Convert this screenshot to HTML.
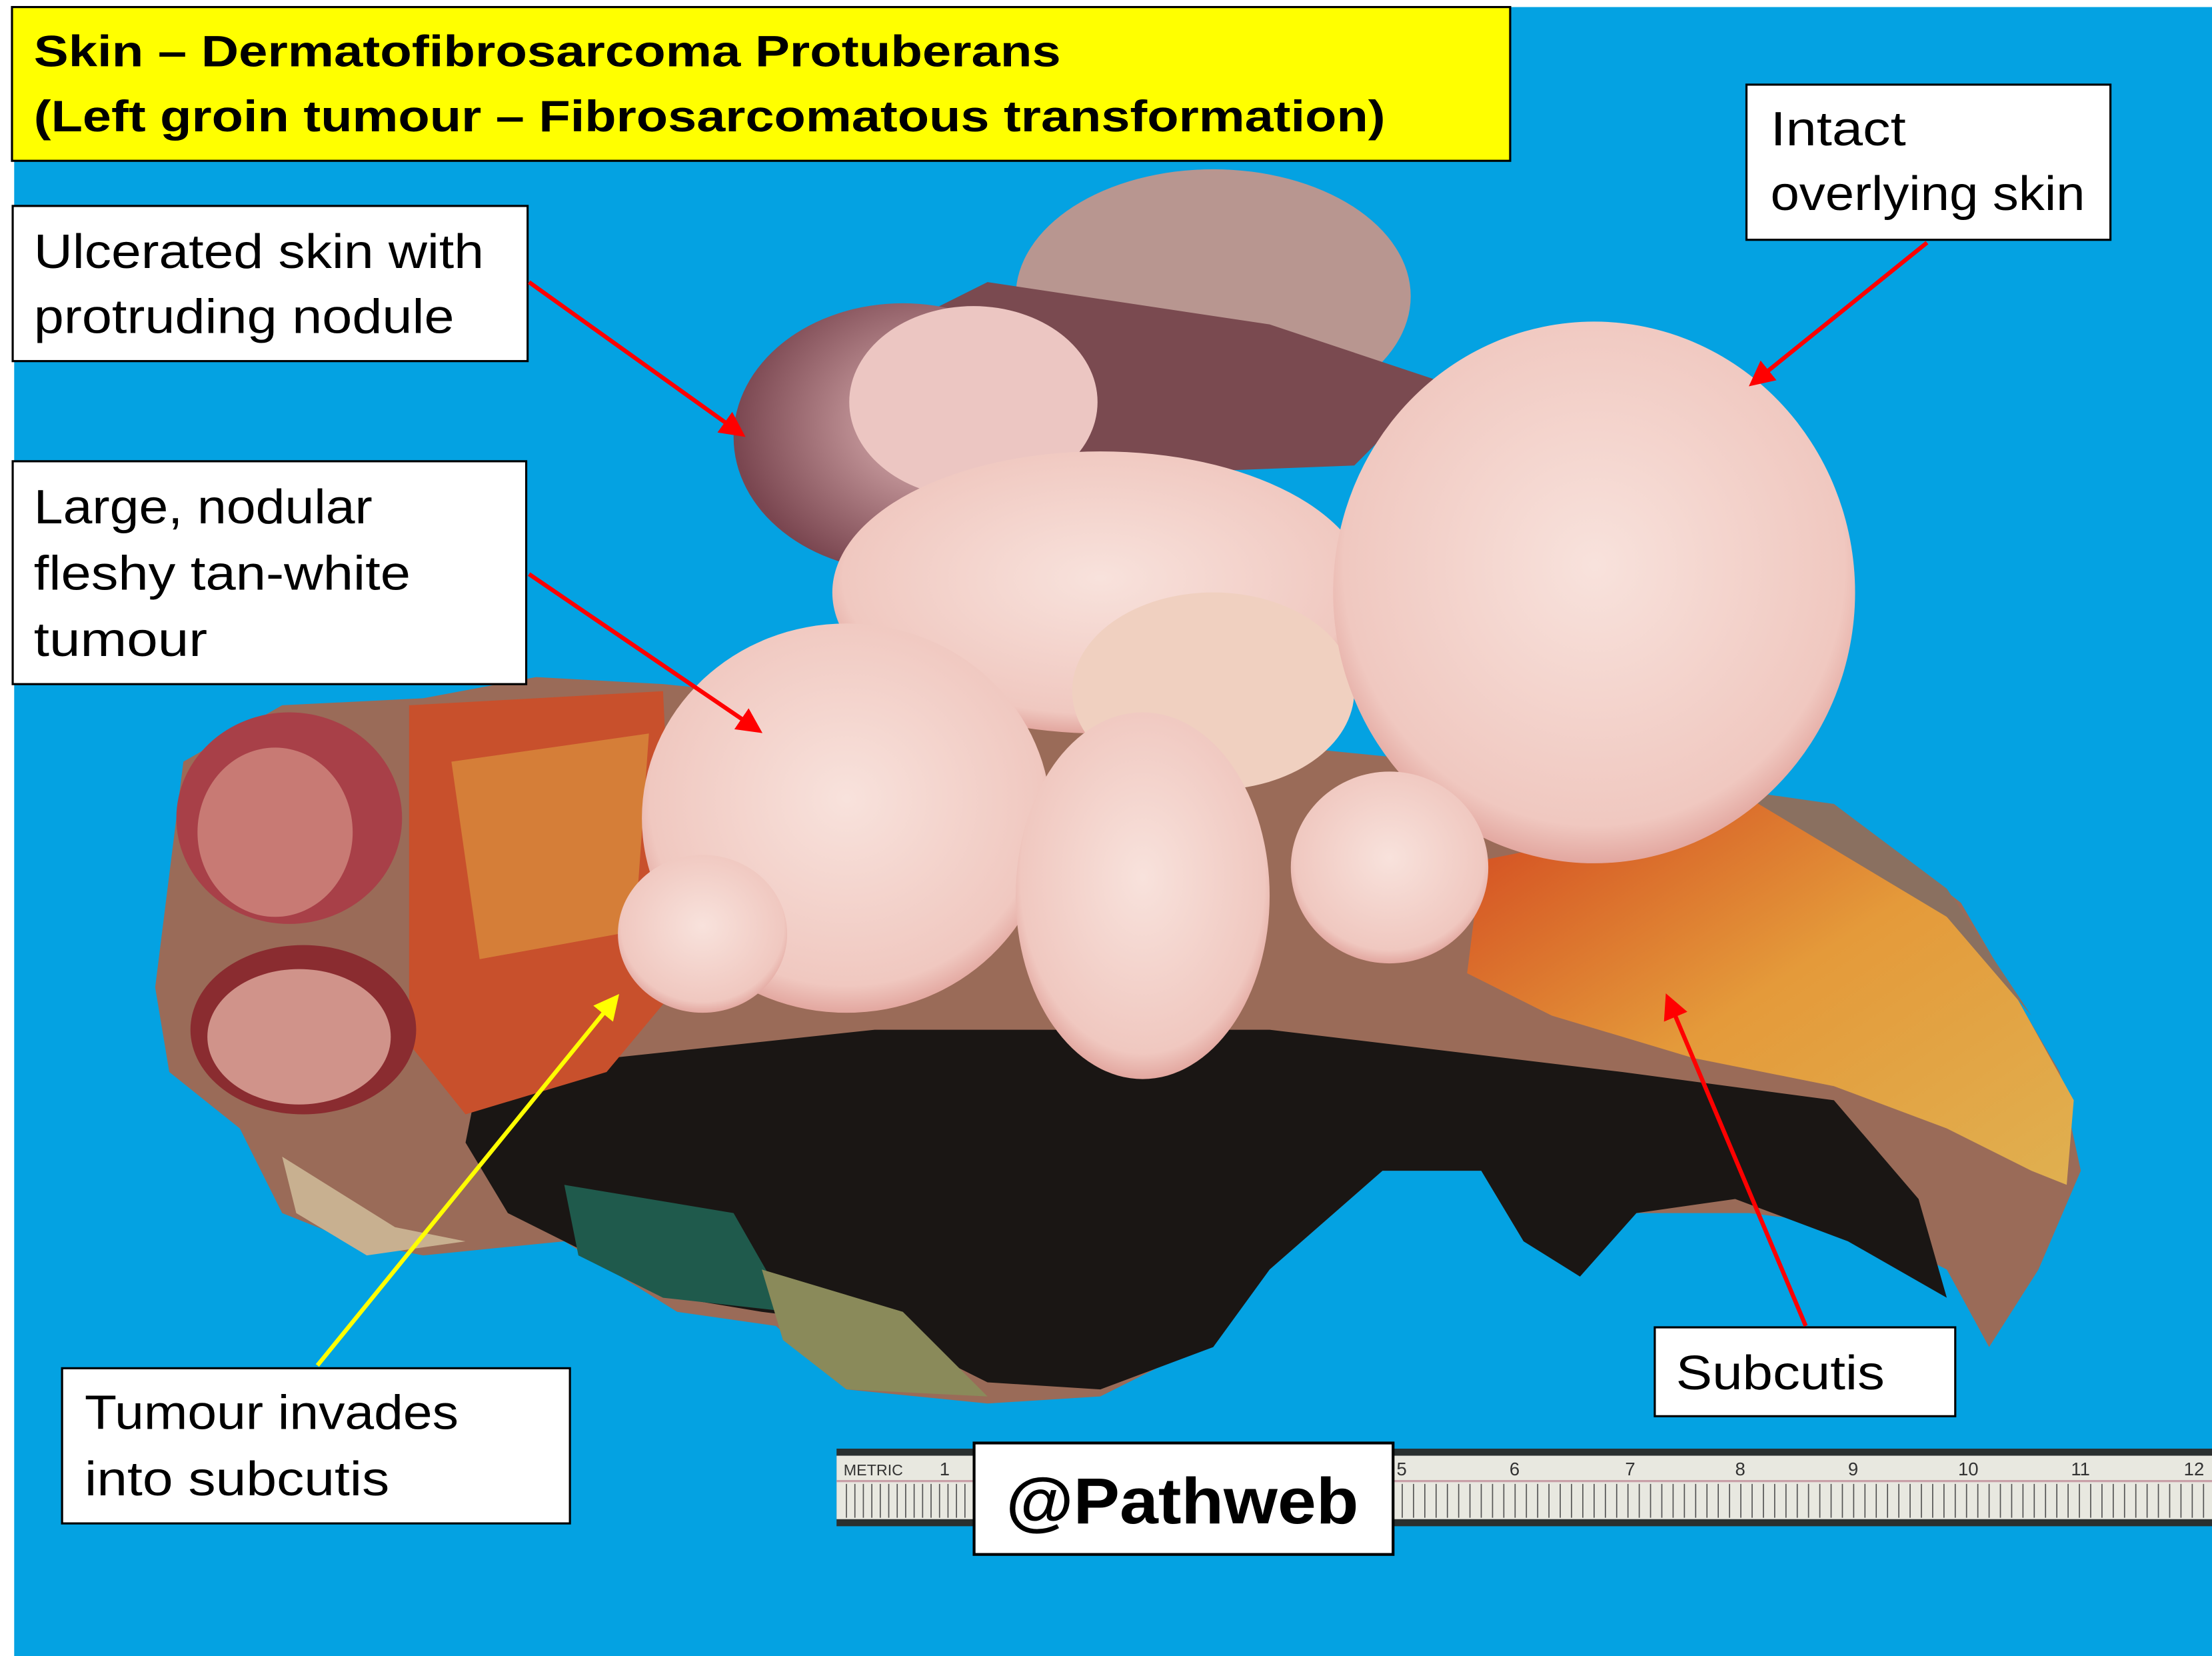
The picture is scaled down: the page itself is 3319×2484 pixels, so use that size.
<!DOCTYPE html>
<html><head><meta charset="utf-8"><style>
html,body{margin:0;padding:0;background:#fff;}
svg{display:block;}
text{font-family:"Liberation Sans",sans-serif;}
</style></head><body>
<svg width="3319" height="2484" viewBox="0 0 1568 1174" preserveAspectRatio="none" xmlns="http://www.w3.org/2000/svg">
<defs>
<radialGradient id="pk" cx="50%" cy="45%" r="60%"><stop offset="0" stop-color="#f8e2dc"/><stop offset="0.8" stop-color="#f0c8c0"/><stop offset="1" stop-color="#d98f88"/></radialGradient>
<radialGradient id="mv" cx="60%" cy="45%" r="60%"><stop offset="0" stop-color="#e6bcbc"/><stop offset="1" stop-color="#7a4650"/></radialGradient>
<linearGradient id="fat" x1="0" y1="0" x2="1" y2="1"><stop offset="0" stop-color="#d2451f"/><stop offset="0.5" stop-color="#e49a3a"/><stop offset="1" stop-color="#e0b050"/></linearGradient>
<marker id="ar" markerWidth="6" markerHeight="6" refX="5" refY="3" orient="auto" markerUnits="strokeWidth"><path d="M0,0 L6,3 L0,6 z" fill="#f00"/></marker>
<marker id="ay" markerWidth="6" markerHeight="6" refX="5" refY="3" orient="auto" markerUnits="strokeWidth"><path d="M0,0 L6,3 L0,6 z" fill="#ff0"/></marker>
</defs>
<rect x="10" y="0" width="1558" height="1174" fill="#04a2e2"/>
<rect x="0" y="0" width="10" height="1174" fill="#fff"/>
<rect x="0" y="0" width="1568" height="5" fill="#fff"/>
<!-- specimen base -->
<path d="M130,540 L200,500 L300,495 L380,480 L470,485 L1220,560 L1300,570 L1390,640 L1460,760 L1475,830 L1445,900 L1410,955 L1380,900 L1320,870 L1240,860 L1160,860 L1120,900 L1080,880 L1050,830 L980,830 L900,900 L860,950 L780,990 L700,995 L600,985 L550,940 L480,930 L400,880 L300,890 L250,880 L200,860 L170,800 L120,760 L110,700 L120,620 Z" fill="#9a6b58"/>
<!-- dark inked base -->
<path d="M340,760 L620,730 L900,730 L1150,760 L1300,780 L1360,850 L1380,920 L1310,880 L1230,850 L1160,860 L1120,905 L1080,880 L1050,830 L980,830 L900,900 L860,955 L780,985 L700,980 L620,940 L540,930 L480,920 L420,890 L360,860 L330,810 Z" fill="#1a1614"/>
<path d="M400,840 L520,860 L560,930 L470,920 L410,890 Z" fill="#1f5a4c"/>
<path d="M540,900 L640,930 L700,990 L600,985 L555,950 Z" fill="#8a8a5a"/>
<path d="M200,820 L280,870 L330,880 L260,890 L210,860 Z" fill="#c8b090"/>
<!-- fat band right -->
<path d="M1050,610 L1150,590 L1230,560 L1330,600 L1420,690 L1470,780 L1465,840 L1440,830 L1380,800 L1300,770 L1200,750 L1100,720 L1040,690 Z" fill="url(#fat)"/>
<path d="M1230,560 L1300,570 L1380,630 L1440,720 L1470,780 L1440,720 L1380,650 Z" fill="#8a7060"/>
<!-- left fat/red area -->
<path d="M290,500 L470,490 L480,700 L430,760 L330,790 L290,740 Z" fill="#c8502c"/>
<path d="M320,540 L460,520 L450,660 L340,680 Z" fill="#d88a3c" opacity="0.8"/>
<!-- left red lumps -->
<ellipse cx="205" cy="580" rx="80" ry="75" fill="#a84048"/>
<ellipse cx="195" cy="590" rx="55" ry="60" fill="#c87a74"/>
<ellipse cx="215" cy="730" rx="80" ry="60" fill="#8a2c30"/>
<ellipse cx="212" cy="735" rx="65" ry="48" fill="#d0938a"/>
<!-- top skin -->
<ellipse cx="860" cy="210" rx="140" ry="90" fill="#b89690"/>
<path d="M560,270 L700,200 L900,230 L1020,270 L960,330 L700,340 L560,360 Z" fill="#7a4a50"/>
<!-- ulcerated nodule -->
<ellipse cx="640" cy="310" rx="120" ry="95" fill="url(#mv)"/>
<ellipse cx="690" cy="285" rx="88" ry="68" fill="#ecc6c2"/>
<!-- middle upper tumour -->
<ellipse cx="780" cy="420" rx="190" ry="100" fill="url(#pk)"/>
<ellipse cx="860" cy="490" rx="100" ry="70" fill="#f0d0c0"/>
<!-- big right nodule -->
<ellipse cx="1130" cy="420" rx="185" ry="192" fill="url(#pk)"/>
<!-- left big nodule -->
<ellipse cx="600" cy="580" rx="145" ry="138" fill="url(#pk)"/>
<ellipse cx="810" cy="635" rx="90" ry="130" fill="url(#pk)"/>
<ellipse cx="985" cy="615" rx="70" ry="68" fill="url(#pk)"/>
<ellipse cx="498" cy="662" rx="60" ry="56" fill="url(#pk)"/>
<!-- title -->
<rect x="8.5" y="5" width="1062" height="109" fill="#ffff00" stroke="#000" stroke-width="1.5"/>
<text x="24" y="47" font-size="31" font-weight="bold" textLength="728" lengthAdjust="spacingAndGlyphs">Skin – Dermatofibrosarcoma Protuberans</text>
<text x="24" y="93" font-size="31" font-weight="bold" textLength="958" lengthAdjust="spacingAndGlyphs">(Left groin tumour – Fibrosarcomatous transformation)</text>
<!-- boxes -->
<g fill="#fff" stroke="#000" stroke-width="1.5">
<rect x="9" y="146" width="365" height="110"/>
<rect x="9" y="327" width="364" height="158"/>
<rect x="1238" y="60" width="258" height="110"/>
<rect x="1173" y="941" width="213" height="63"/>
<rect x="44" y="970" width="360" height="110"/>
</g>
<!-- ruler -->
<rect x="593" y="1027" width="975" height="55" fill="#2a3030"/>
<rect x="593" y="1032" width="975" height="45" fill="#e8e8e0"/>
<line x1="593" y1="1050" x2="1568" y2="1050" stroke="#c8a0a8" stroke-width="1.5"/>
<path d="M600,1052 V1076 M606,1052 V1076 M612,1052 V1076 M618,1052 V1076 M624,1052 V1076 M630,1052 V1076 M636,1052 V1076 M642,1052 V1076 M648,1052 V1076 M654,1052 V1076 M660,1052 V1076 M666,1052 V1076 M672,1052 V1076 M678,1052 V1076 M684,1052 V1076" stroke="#555" stroke-width="0.8"/>
<g stroke="#555" stroke-width="0.8">
<path d="M994,1052V1076M1002,1052V1076M1010,1052V1076M1018,1052V1076M1026,1052V1076M1034,1052V1076M1042,1052V1076M1050,1052V1076M1058,1052V1076M1066,1052V1076M1074,1052V1076M1082,1052V1076M1090,1052V1076M1098,1052V1076M1106,1052V1076M1114,1052V1076M1122,1052V1076M1130,1052V1076M1138,1052V1076M1146,1052V1076M1154,1052V1076M1162,1052V1076M1170,1052V1076M1178,1052V1076M1186,1052V1076M1194,1052V1076M1202,1052V1076M1210,1052V1076M1218,1052V1076M1226,1052V1076M1234,1052V1076M1242,1052V1076M1250,1052V1076M1258,1052V1076M1266,1052V1076M1274,1052V1076M1282,1052V1076M1290,1052V1076M1298,1052V1076M1306,1052V1076M1314,1052V1076M1322,1052V1076M1330,1052V1076M1338,1052V1076M1346,1052V1076M1354,1052V1076M1362,1052V1076M1370,1052V1076M1378,1052V1076M1386,1052V1076M1394,1052V1076M1402,1052V1076M1410,1052V1076M1418,1052V1076M1426,1052V1076M1434,1052V1076M1442,1052V1076M1450,1052V1076M1458,1052V1076M1466,1052V1076M1474,1052V1076M1482,1052V1076M1490,1052V1076M1498,1052V1076M1506,1052V1076M1514,1052V1076M1522,1052V1076M1530,1052V1076M1538,1052V1076M1546,1052V1076M1554,1052V1076M1562,1052V1076"/>
</g>
<g font-size="13" fill="#333">
<text x="598" y="1046" font-size="11">METRIC</text><text x="666" y="1046">1</text>
<text x="990" y="1046">5</text><text x="1070" y="1046">6</text><text x="1152" y="1046">7</text><text x="1230" y="1046">8</text><text x="1310" y="1046">9</text><text x="1388" y="1046">10</text><text x="1468" y="1046">11</text><text x="1548" y="1046">12</text>
</g>
<rect x="690.5" y="1023" width="297" height="79" fill="#fff" stroke="#000" stroke-width="2"/>
<text x="713" y="1080" font-size="46" font-weight="bold" textLength="250" lengthAdjust="spacingAndGlyphs">@Pathweb</text>
<!-- label text -->
<g font-size="34" fill="#000">
<text x="24" y="190" textLength="319" lengthAdjust="spacingAndGlyphs">Ulcerated skin with</text>
<text x="24" y="236" textLength="298" lengthAdjust="spacingAndGlyphs">protruding nodule</text>
<text x="24" y="371" textLength="240" lengthAdjust="spacingAndGlyphs">Large, nodular</text>
<text x="24" y="418" textLength="267" lengthAdjust="spacingAndGlyphs">fleshy tan-white</text>
<text x="24" y="465" textLength="123" lengthAdjust="spacingAndGlyphs">tumour</text>
<text x="1255" y="103" textLength="96" lengthAdjust="spacingAndGlyphs">Intact</text>
<text x="1255" y="149" textLength="223" lengthAdjust="spacingAndGlyphs">overlying skin</text>
<text x="1188" y="985" textLength="148" lengthAdjust="spacingAndGlyphs">Subcutis</text>
<text x="60" y="1013" textLength="265" lengthAdjust="spacingAndGlyphs">Tumour invades</text>
<text x="60" y="1060" textLength="216" lengthAdjust="spacingAndGlyphs">into subcutis</text>
</g>
<!-- arrows -->
<g stroke-width="3" fill="none">
<line x1="375" y1="200" x2="526" y2="308" stroke="#f00" marker-end="url(#ar)"/>
<line x1="375" y1="407" x2="538" y2="518" stroke="#f00" marker-end="url(#ar)"/>
<line x1="1366" y1="172" x2="1242" y2="272" stroke="#f00" marker-end="url(#ar)"/>
<line x1="1280" y1="940" x2="1182" y2="707" stroke="#f00" marker-end="url(#ar)"/>
<line x1="225" y1="968" x2="437" y2="707" stroke="#ff0" marker-end="url(#ay)"/>
</g>
</svg>
</body></html>
